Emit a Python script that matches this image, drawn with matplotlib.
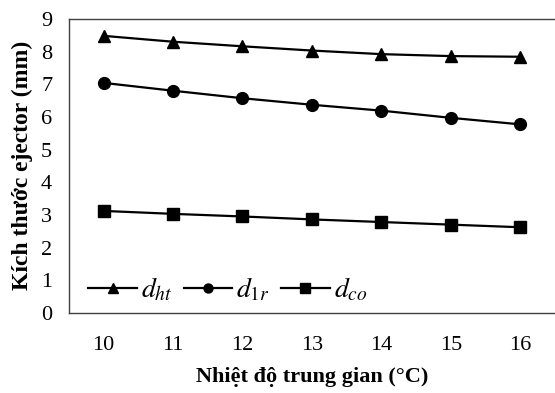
import matplotlib
matplotlib.use("Agg")
import matplotlib.pyplot as plt

x = [10, 11, 12, 13, 14, 15, 16]
d_ht = [8.48, 8.30, 8.16, 8.03, 7.92, 7.86, 7.84]
d_1r = [7.04, 6.80, 6.57, 6.37, 6.19, 5.97, 5.77]
d_co = [3.12, 3.03, 2.95, 2.86, 2.78, 2.70, 2.62]
labels = [r"$d_{ht}$", r"$d_{1r}$", r"$d_{co}$"]

plt.rcParams['font.family'] = ['Liberation Serif', 'DejaVu Serif']
plt.rcParams['mathtext.fontset'] = 'stix'

fig = plt.figure(figsize=(5.55, 3.93), dpi=100)
ax = fig.add_axes([0.124, 0.204, 0.876, 0.748])

ax.plot(x, d_ht, '-^', color='black', lw=1.6, ms=9, label=labels[0])
ax.plot(x, d_1r, '-o', color='black', lw=1.6, ms=8.5, label=labels[1])
ax.plot(x, d_co, '-s', color='black', lw=1.6, ms=8, label=labels[2])

ax.set_xlim(9.5, 16.5)
ax.set_ylim(0, 9)
ax.set_xticks(x)
ax.set_yticks(range(0, 10))
ax.tick_params(axis='both', length=0, labelsize=16)
ax.tick_params(axis='x', pad=17)
ax.tick_params(axis='y', pad=12)
for s in ['top', 'bottom', 'left']:
    ax.spines[s].set_color('#404040')
    ax.spines[s].set_linewidth(1.0)
ax.spines['right'].set_visible(False)

ax.set_xlabel("Nhiệt độ trung gian (°C)", fontsize=16, fontweight='bold', labelpad=8)
ax.set_ylabel("Kích thước ejector (mm)", fontsize=17, fontweight='bold', labelpad=6)

leg = ax.legend(loc='lower left', ncol=3, frameon=False, fontsize=20,
                handlelength=1.75, handletextpad=0.15, columnspacing=0.4,
                bbox_to_anchor=(0.0, -0.035), borderaxespad=0.3)
for h in leg.legend_handles:
    h.set_markersize(6.5)

fig.savefig("out.png", dpi=100)
